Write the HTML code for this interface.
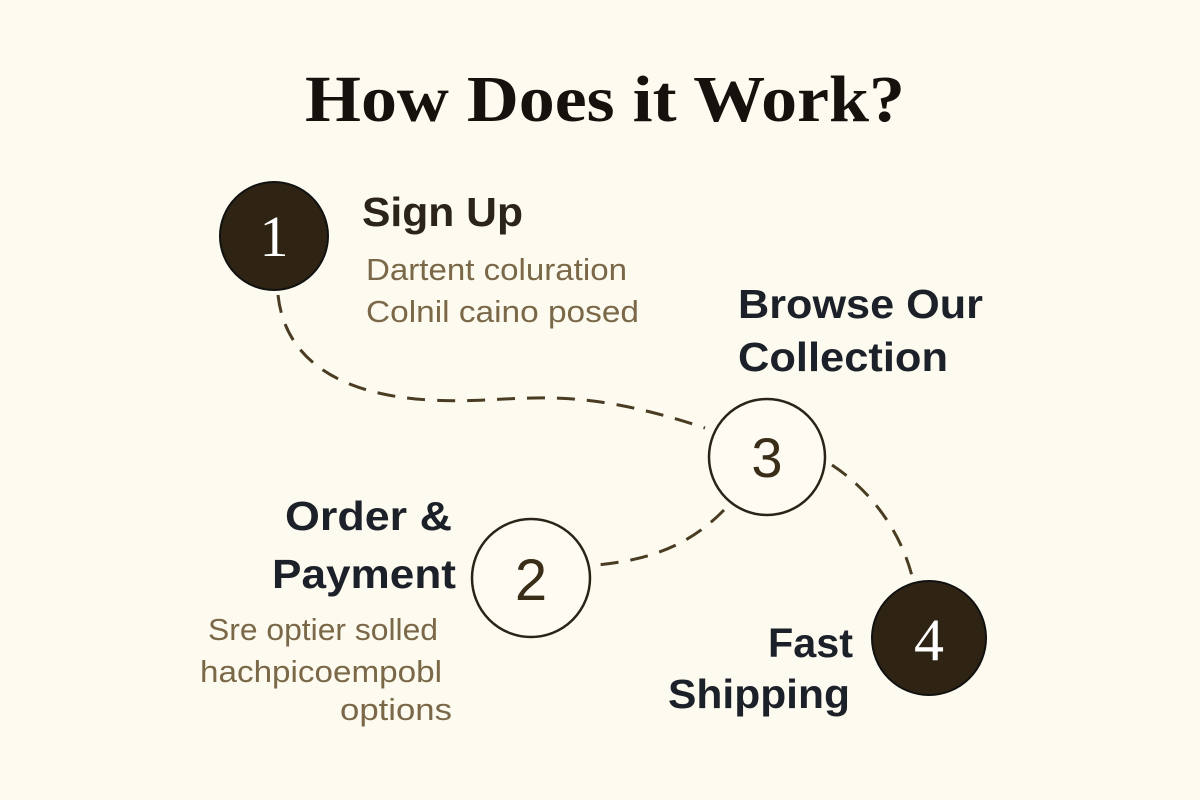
<!DOCTYPE html>
<html><head><meta charset="utf-8"><style>
html,body{margin:0;padding:0;background:#fdfbef;}
svg{display:block}
.h{font-family:"Liberation Sans",sans-serif;font-weight:bold;fill:#1c2129;font-size:41px}
.g{font-family:"Liberation Sans",sans-serif;fill:#7a6848;font-size:31px}
</style></head><body>
<svg width="1200" height="800" viewBox="0 0 1200 800" xmlns="http://www.w3.org/2000/svg">
<rect width="1200" height="800" fill="#fdfbef"/>
<text x="305" y="121" textLength="600" lengthAdjust="spacingAndGlyphs" font-family="Liberation Serif,serif" font-weight="bold" font-size="66" fill="#15120e">How Does it Work?</text>
<g fill="none" stroke="#4a3c22" stroke-width="3" stroke-dasharray="18,12">
<path d="M278 295 C285 360 340 395 430 400 C520 405 560 380 705 428"/>
<path d="M724 510 C690 545 650 560 597 565"/>
<path d="M832 465 C870 490 900 530 912 576"/>
</g>
<circle cx="274" cy="236" r="54" fill="#2f2414" stroke="#111" stroke-width="2"/>
<text x="274" y="256" text-anchor="middle" font-family="Liberation Serif,serif" font-size="58" fill="#fff">1</text>
<circle cx="767" cy="457" r="58" fill="#fefcf2" stroke="#2a2418" stroke-width="2.5"/>
<text x="767" y="477" text-anchor="middle" font-family="Liberation Sans,sans-serif" font-size="56" fill="#3a2e18">3</text>
<circle cx="531" cy="578" r="59" fill="#fefcf2" stroke="#2a2418" stroke-width="2.5"/>
<text x="531" y="600" text-anchor="middle" font-family="Liberation Sans,sans-serif" font-size="58" fill="#3a2e18">2</text>
<circle cx="929" cy="638" r="57" fill="#2f2414" stroke="#111" stroke-width="2"/>
<text x="929" y="660" text-anchor="middle" font-family="Liberation Serif,serif" font-size="60" fill="#fff">4</text>
<text class="h" x="362" y="226" textLength="161" lengthAdjust="spacingAndGlyphs" style="fill:#2b2418">Sign Up</text>
<text class="g" x="366" y="280" textLength="261" lengthAdjust="spacingAndGlyphs">Dartent coluration</text>
<text class="g" x="366" y="322" textLength="273" lengthAdjust="spacingAndGlyphs">Colnil caino posed</text>
<text class="h" x="738" y="318" textLength="245" lengthAdjust="spacingAndGlyphs">Browse Our</text>
<text class="h" x="738" y="371" textLength="210" lengthAdjust="spacingAndGlyphs">Collection</text>
<text class="h" x="285" y="530" textLength="167" lengthAdjust="spacingAndGlyphs">Order &amp;</text>
<text class="h" x="272" y="588" textLength="184" lengthAdjust="spacingAndGlyphs">Payment</text>
<text class="g" x="208" y="640" textLength="230" lengthAdjust="spacingAndGlyphs">Sre optier solled</text>
<text class="g" x="200" y="682" textLength="242" lengthAdjust="spacingAndGlyphs">hachpicoempobl</text>
<text class="g" x="340" y="720" textLength="112" lengthAdjust="spacingAndGlyphs">options</text>
<text class="h" x="768" y="657" textLength="85" lengthAdjust="spacingAndGlyphs">Fast</text>
<text class="h" x="668" y="708" textLength="182" lengthAdjust="spacingAndGlyphs">Shipping</text>
</svg>
</body></html>
